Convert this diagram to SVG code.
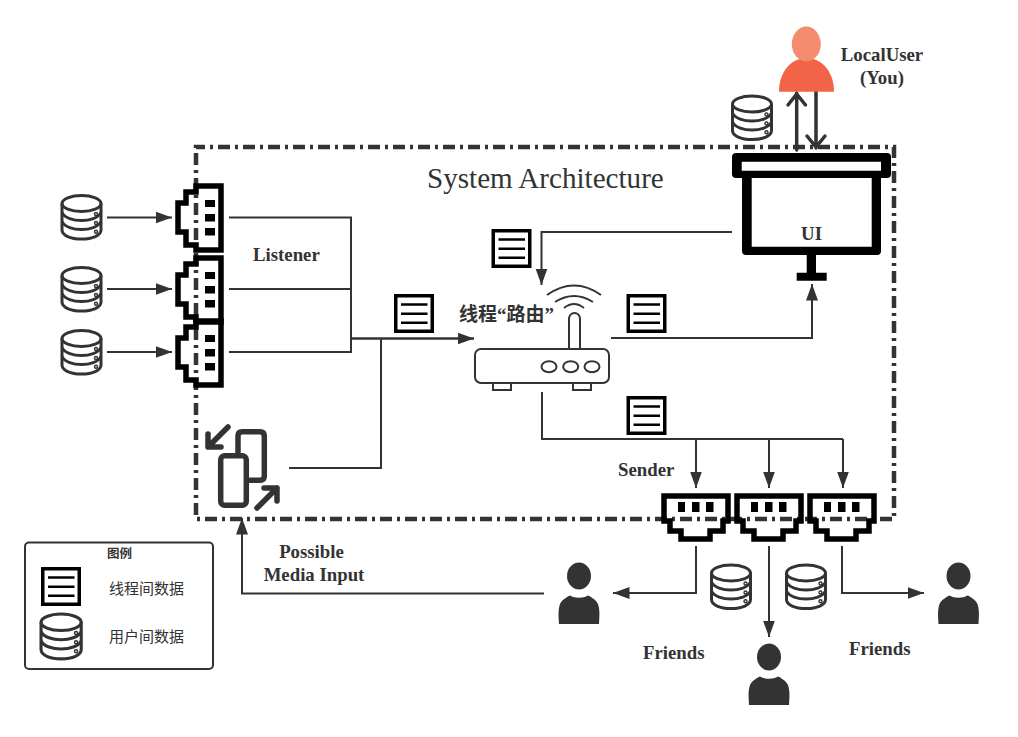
<svg xmlns="http://www.w3.org/2000/svg" width="1018" height="737" viewBox="0 0 1018 737">
<style>
.frame{fill:none;stroke:#333;stroke-width:4.5;stroke-dasharray:12 5 3 5;stroke-dashoffset:3}
.ln{fill:none;stroke:#333;stroke-width:2}
.ar{marker-end:url(#head)}
.lab{font-family:"Liberation Serif",serif;font-weight:bold;font-size:18.800px;fill:#333}
.cjk{font-family:"Noto Sans CJK SC",sans-serif;fill:#333}
.db *{fill:none;stroke:#333;stroke-width:3}
.dk{fill:#333}
.port{fill:none;stroke:#000;stroke-width:5.500}
.list rect{fill:#fff;stroke:#000;stroke-width:3.500}
.list path{fill:none;stroke:#000;stroke-width:2.500}
.rt{fill:#fff;stroke:#333;stroke-width:2}
.rta{fill:none;stroke:#333;stroke-width:2}
.sw{fill:none;stroke:#333;stroke-width:5.500;stroke-linecap:round;stroke-linejoin:round}
.chev{fill:none;stroke:#333;stroke-width:3.500;stroke-linecap:round}
</style>
<defs>
<marker id="head" markerUnits="userSpaceOnUse" markerWidth="17" markerHeight="14" refX="16.500" refY="7" orient="auto"><path d="M0,1 L16.500,7 L0,13 Z" fill="#333"/></marker>
<g id="db" class="db">
<ellipse cx="21" cy="9.500" rx="19.500" ry="8"/>
<path d="M1.500,9.500 V36 C1.500,41.500 10,45 21,45 S40.500,41.500 40.500,36 V9.500"/>
<path d="M1.500,18.500 C4,24 13,26.500 21,26.500 C29,26.500 38,24 40.500,18.500"/>
<path d="M1.500,27.500 C4,33 13,35.500 21,35.500 C29,35.500 38,33 40.500,27.500"/>
<circle cx="35.500" cy="20" r="0.700"/><circle cx="35.500" cy="29" r="0.700"/><circle cx="35.500" cy="37.700" r="0.700"/>
</g>
<g id="port">
<path class="port" d="M20,3 H45 V67 H20 V62 H10 V49 H2 V20 H10 V9 H20 Z"/>
<rect x="29" y="17" width="10" height="7"/><rect x="29" y="31" width="10" height="7.500"/><rect x="29" y="45" width="10" height="7.500"/>
</g>
<g id="list" class="list"><rect x="1.750" y="1.750" width="36.500" height="35.500"/><path d="M7,10.500 H33.500 M7,19.700 H33.500 M7,28.700 H33.500"/></g>
<g id="person" class="dk">
<ellipse cx="0" cy="0" rx="12" ry="13.500"/>
<path d="M-20,48 C-20.500,40 -21,34 -19,28 C-17,23.500 -12,21 -9,19.500 C-4,22.500 4,22.500 9,19.500 C12,21 17,23.500 19,28 C21,34 20.500,40 20,48 Z"/>
</g>
</defs>
<rect width="1018" height="737" fill="#fff"/>
<path id="frame" class="frame" d="M196,147 H894 V519 H196 Z"/>
<text id="title" x="427" y="188" font-family="Liberation Serif, serif" font-size="29.100" fill="#333">System Architecture</text>
<g id="connectors">
<path class="ln ar" d="M107,217.500 H172"/>
<path class="ln ar" d="M107,289 H172"/>
<path class="ln ar" d="M107,352 H172"/>
<path class="ln" d="M229,217.500 H351 V352 H229 M229,289 H351"/>
<path class="ln ar" d="M351,338.500 H474" style="stroke-width:2.500"/>
<path class="ln" d="M289,468 H381 V338.500"/>
<path class="ln ar" d="M732,232 H541.500 V285"/>
<path class="ln ar" d="M611,338 H812 V284"/>
<path class="ln" d="M542,392 V439 H843"/>
<path class="ln ar" d="M696,439 V488"/>
<path class="ln ar" d="M769,439 V488"/>
<path class="ln ar" d="M843,439 V488"/>
<path class="ln ar" d="M696,546 V593 H613"/>
<path class="ln ar" d="M769,546 V637"/>
<path class="ln ar" d="M842,546 V593 H924"/>
<path class="ln ar" d="M544,593.500 H242 V518"/>
<path class="chev" d="M796.700,150 V93 M788,105 L796.700,94 L805.500,105 M816,92 V148 M807,136 L816,147 L825,136"/>
</g>
<use id="db-in-1" href="#db" x="60.500" y="194"/>
<use id="db-in-2" href="#db" x="60.500" y="266"/>
<use id="db-in-3" href="#db" x="60.500" y="329"/>
<use id="db-ui" href="#db" x="731" y="94.500"/>
<use id="db-out-1" href="#db" x="710" y="563.500"/>
<use id="db-out-2" href="#db" x="785" y="563.500"/>
<use id="listener-1" href="#port" x="176" y="183"/>
<use id="listener-2" href="#port" x="176" y="255"/>
<use id="listener-3" href="#port" x="176" y="318"/>
<use id="sender-1" href="#port" transform="translate(661,541) rotate(-90)"/>
<use id="sender-2" href="#port" transform="translate(734,541) rotate(-90)"/>
<use id="sender-3" href="#port" transform="translate(807,541) rotate(-90)"/>
<use id="list-1" href="#list" x="491.500" y="229"/>
<use id="list-2" href="#list" x="394" y="294"/>
<use id="list-3" href="#list" x="626.500" y="294"/>
<use id="list-4" href="#list" x="626.500" y="396"/>
<g id="router">
<path class="rt" d="M493,383 h18 v7 h-18 Z M573,383 h18 v7 h-18 Z"/>
<rect class="rt" x="569" y="313" width="11" height="40" rx="5.500"/>
<rect class="rt" x="475" y="349" width="134" height="34" rx="6"/>
<ellipse class="rt" cx="549" cy="366.700" rx="7.500" ry="5.500"/><ellipse class="rt" cx="570.700" cy="366.700" rx="7.500" ry="5.500"/><ellipse class="rt" cx="592" cy="366.700" rx="7.500" ry="5.500"/>
<path class="rta" d="M564,308 Q574,300 584,308 M555,302 Q574,290 593,302 M547,295 Q574,276 601,295"/>
<text class="cjk" x="459" y="321" font-size="19" font-weight="bold">线程<tspan font-family="Liberation Serif, serif">“</tspan>路由<tspan font-family="Liberation Serif, serif">”</tspan></text>
</g>
<g id="ui">
<path fill="#000" fill-rule="evenodd" d="M736,153 H887 Q891,153 891,157 V174 Q891,178 887,178 H881 V251 Q881,255 877,255 H816 V272.700 H826.700 V280.700 H796.700 V272.700 H806.700 V255 H746 Q742,255 742,251 V178 H736 Q732,178 732,174 V157 Q732,153 736,153 Z M741.700,161.700 V170.700 H881 V161.700 Z M751.700,178 V246.700 H871.700 V178 Z"/>
<text class="lab" x="811.500" y="240" text-anchor="middle">UI</text>
</g>
<g id="local-user">
<path fill="#F36347" d="M779,91.700 C779,72 791,58 806.500,58 C822,58 834,72 834,91.700 Z"/>
<ellipse cx="806.300" cy="44" rx="14.500" ry="17.500" fill="#F58B6F"/>
<text class="lab" x="882" y="61" text-anchor="middle">LocalUser</text>
<text class="lab" x="882" y="84" text-anchor="middle">(You)</text>
</g>
<g id="media-switch">
<rect class="sw" x="220.700" y="455.700" width="25.600" height="49.600" rx="4"/>
<path class="sw" d="M238,453 V436 Q238,431.700 242,431.700 H260 Q264.300,431.700 264.300,436 V476 Q264.300,480.300 260,480.300 H250"/>
<path class="sw" d="M228,427 L208,447 M208,434 V447 H221 M257,508 L277,488 M264,488 H277 V501"/>
</g>
<use id="friend-1" href="#person" x="579" y="576"/>
<use id="friend-2" href="#person" x="769" y="657"/>
<use id="friend-3" href="#person" x="958.500" y="576"/>
<g id="labels">
<text class="lab" x="253" y="261">Listener</text>
<text class="lab" x="618" y="476">Sender</text>
<text class="lab" x="643" y="659">Friends</text>
<text class="lab" x="849" y="655">Friends</text>
<text class="lab" x="311.500" y="558" text-anchor="middle">Possible</text>
<text class="lab" x="314" y="581" text-anchor="middle">Media Input</text>
</g>
<g id="legend">
<rect x="25" y="542.500" width="188" height="126.500" rx="4" fill="none" stroke="#333" stroke-width="2"/>
<text class="cjk" x="119.500" y="558" font-size="12.500" font-weight="bold" text-anchor="middle">图例</text>
<use href="#list" x="41" y="567"/>
<use href="#db" transform="translate(39.500,612.500) scale(1.030)"/>
<text class="cjk" x="109" y="594" font-size="15">线程间数据</text>
<text class="cjk" x="109" y="642" font-size="15">用户间数据</text>
</g>
</svg>
